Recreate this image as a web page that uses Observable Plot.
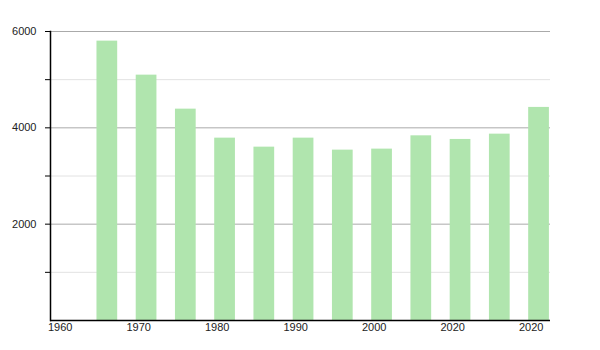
<!DOCTYPE html>
<html>
<head>
<meta charset="utf-8">
<script src="https://cdn.jsdelivr.net/npm/d3@7"></script>
<script src="https://cdn.jsdelivr.net/npm/@observablehq/plot@0.6"></script>
<style>
  html, body { margin: 0; padding: 0; background: #fff; }
  #chart { width: 600px; height: 350px; }
</style>
</head>
<body>
<div id="chart"></div>
<script>
const years = [1966, 1971, 1976, 1981, 1986, 1991, 1996, 2001, 2006, 2011, 2016, 2021];
const population = [5800, 5094, 4388, 3786, 3599, 3786, 3537, 3558, 3834, 3759, 3869, 4424];
const xTickValues = [1960, 1970, 1980, 1990, 2000, 2010, 2020];
const xTickLabels = ["1960", "1970", "1980", "1990", "2000", "2020", "2020"];
const majorGrid = [2000, 4000, 6000];
const minorGrid = [1000, 3000, 5000];
const yTicks = [1000, 2000, 3000, 4000, 5000, 6000];

const data = years.map((y, i) => ({year: y, value: population[i]}));
const halfWidth = 1.32;

const chart = Plot.plot({
  width: 600,
  height: 350,
  marginLeft: 50,
  marginRight: 50,
  marginTop: 31,
  marginBottom: 30,
  style: {fontFamily: "'Liberation Sans', Arial, sans-serif", fontSize: "11px", color: "#222", background: "#fff"},
  x: {type: "linear", domain: [1958.76, 2022.46]},
  y: {domain: [0, 6000]},
  marks: [
    Plot.ruleY(minorGrid, {stroke: "#e2e2e2", strokeWidth: 1}),
    Plot.ruleY(majorGrid, {stroke: "#aaaaaa", strokeWidth: 1}),
    Plot.rectY(data, {x1: d => d.year - halfWidth, x2: d => d.year + halfWidth, y1: 0, y2: "value", fill: "#b0e5ae"}),
    Plot.axisY({ticks: yTicks, tickSize: 5, tickPadding: 9, tickFormat: d => (d % 2000 === 0 ? String(d) : ""), stroke: "#000", fill: "#222", label: null}),
    Plot.axisX({ticks: xTickValues, tickSize: 0, tickPadding: 3, tickFormat: (d, i) => xTickLabels[i], fill: "#222", label: null}),
    Plot.frame({anchor: "left", stroke: "#000", strokeWidth: 1.5}),
    Plot.ruleY([0], {stroke: "#000", strokeWidth: 1.5})
  ]
});
document.getElementById("chart").appendChild(chart);
</script>
</body>
</html>
